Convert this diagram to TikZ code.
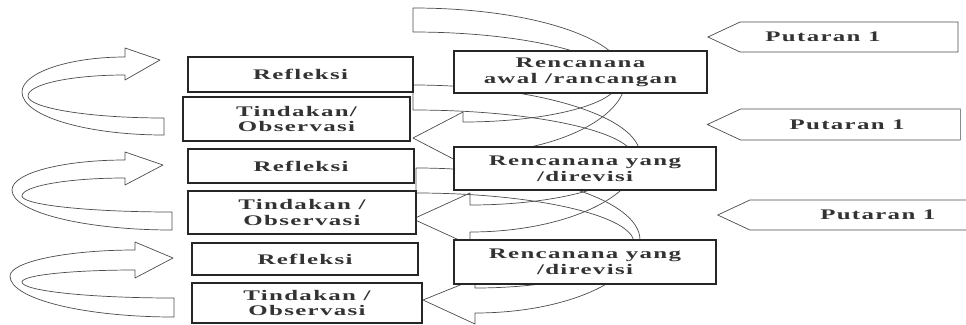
\documentclass[tikz,border=0pt]{standalone}
\usepackage{fontspec}
\setmainfont{Liberation Serif}[FakeStretch=1.7,LetterSpace=9]
\usetikzlibrary{shapes.symbols}

\begin{document}
\begin{tikzpicture}
	[
		x=0.03cm, y=-0.03cm,
		font=\bfseries\fontsize{12.5}{13.5}\selectfont,
		text=black!80
	]
	\tikzstyle{Box} = [rectangle, inner sep=0pt, text centered, align=center, draw=black!85, line width=0.9pt, fill=white]
	\tikzstyle{Band} = [draw=black!70, line width=0.6pt, line join=round]
	\tikzstyle{Tag} = [signal, signal to=west, signal pointer angle=50, inner sep=0pt, draw=black!70, line width=0.6pt, fill=white]
	\clip (0,0) rectangle (966,324);

	% curved arrows on the left
	\draw [Band] (164,118) .. controls (89,118) and (28,108) .. (28,96)
		.. controls (28,84) and (72,75) .. (125,75) -- (125,80) -- (160,60) -- (125,48) -- (125,57)
		.. controls (68,57) and (22,73) .. (22,92)
		.. controls (22,116) and (86,135) .. (164,135) -- cycle;
	\draw [Band] (172,212) .. controls (90,212) and (22,205) .. (22,196)
		.. controls (22,186) and (68,178) .. (125,178) -- (125,185) -- (163,165) -- (125,152) -- (125,160)
		.. controls (63,160) and (12,173) .. (12,190)
		.. controls (12,212) and (84,230) .. (172,230) -- cycle;
	\draw [Band] (174,298) .. controls (90,298) and (22,291) .. (22,282)
		.. controls (22,275) and (73,270) .. (135,270) -- (135,278) -- (173,258) -- (135,242) -- (135,250)
		.. controls (66,250) and (10,262) .. (10,276)
		.. controls (10,299) and (84,317) .. (174,317) -- cycle;

	% curved arrows in the middle
	\draw [Band] (413,8) .. controls (535,8) and (626,40) .. (626,78)
		.. controls (626,120) and (550,154) .. (463,154) -- (463,164) -- (413,138) -- (463,112) -- (463,122)
		.. controls (547,122) and (618,104) .. (618,82)
		.. controls (618,55) and (525,32) .. (413,32) -- cycle;
	\draw [Band] (413,85) .. controls (538,85) and (640,117) .. (640,155)
		.. controls (640,197) and (564,232) .. (470,232) -- (470,245) -- (413,219) -- (470,193) -- (470,205)
		.. controls (560,205) and (634,184) .. (634,158)
		.. controls (634,132) and (535,110) .. (413,110) -- cycle;
	\draw [Band] (416,168) .. controls (539,168) and (640,200) .. (640,240)
		.. controls (640,280) and (566,313) .. (475,313) -- (475,324) -- (423,300) -- (475,279) -- (475,288)
		.. controls (562,288) and (634,268) .. (634,243)
		.. controls (634,216) and (536,193) .. (416,193) -- cycle;

	\node [Box, minimum width=6.75cm, minimum height=1.05cm] (ref1) at (300.5,74.5) {Refleksi};
	\node [Box, minimum width=6.81cm, minimum height=1.32cm] (tin1) at (296.5,119) {Tindakan/\\Observasi};
	\node [Box, minimum width=6.78cm, minimum height=1.02cm] (ref2) at (301,166) {Refleksi};
	\node [Box, minimum width=6.84cm, minimum height=1.29cm] (tin2) at (302,212.5) {Tindakan /\\Observasi};
	\node [Box, minimum width=6.78cm, minimum height=0.96cm] (ref3) at (305,259) {Refleksi};
	\node [Box, minimum width=6.9cm, minimum height=1.2cm] (tin3) at (307,303) {Tindakan /\\Observasi};

	\node [Box, minimum width=7.59cm, minimum height=1.26cm] (ren1) at (580.5,72) {Rencanana\\awal /rancangan};
	\node [Box, minimum width=7.86cm, minimum height=1.29cm] (ren2) at (585,168.5) {Rencanana yang\\/direvisi};
	\node [Box, minimum width=7.86cm, minimum height=1.32cm] (ren3) at (585,262) {Rencanana yang\\/direvisi};

	\node [Tag, minimum width=7.5cm, minimum height=0.9cm, label={[xshift=-0.78cm]center:Putaran 1}] (put1) at (849,37) {};
	\node [Tag, minimum width=7.59cm, minimum height=0.93cm, label={[xshift=-0.1cm]center:Putaran 1}] (put2) at (850.5,124.5) {};
	\node [Tag, minimum width=9.7cm, minimum height=0.9cm, label={[xshift=-0.53cm]center:Putaran 1}] (put3) at (895.5,215) {};
\end{tikzpicture}
\end{document}
